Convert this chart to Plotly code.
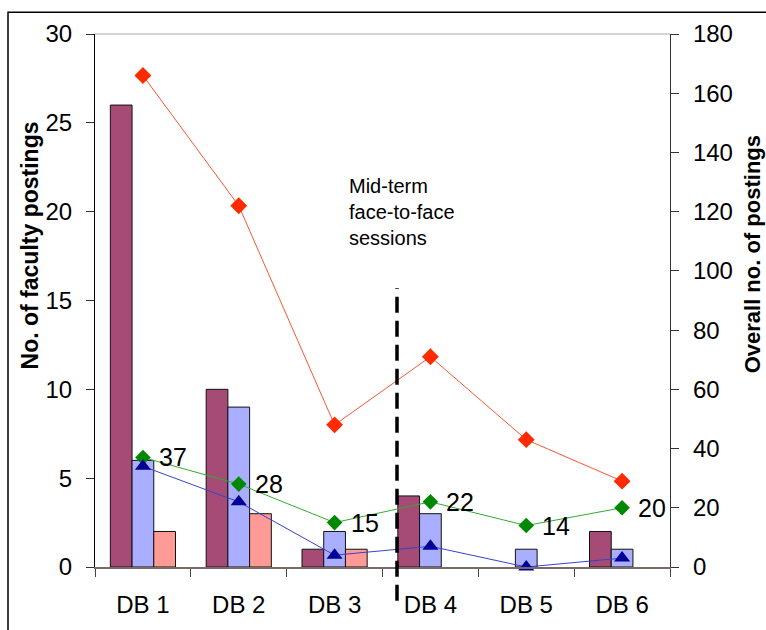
import plotly.graph_objects as go

# Discussion boards
categories = ["DB 1", "DB 2", "DB 3", "DB 4", "DB 5", "DB 6"]

# Faculty postings (left axis)
faculty_a = [26, 10, 1, 4, 0, 2]
faculty_b = [6, 9, 2, 3, 1, 1]
faculty_c = [2, 3, 1, 0, 0, 0]

# Overall postings (right axis)
overall_red = [166, 122, 48, 71, 43, 29]
overall_green = [37, 28, 15, 22, 14, 20]
overall_blue = [34, 22, 4, 7, 0, 3]

left_ticks = [0, 5, 10, 15, 20, 25, 30]
right_ticks = [0, 20, 40, 60, 80, 100, 120, 140, 160, 180]

FONT = "Liberation Sans, Arial, sans-serif"
W, H = 766, 630
ML, MR, MT, MB = 95, 96, 34, 59
PW, PH = W - ML - MR, H - MT - MB


def px_x(px):
    return (px - ML) / PW


def px_y(py):
    return (H - MB - py) / PH


def outline(values):
    # empty bars get no outline so they don't show as a flat line
    return dict(color="#111111", width=[1 if v > 0 else 0 for v in values])


fig = go.Figure()

fig.add_trace(go.Bar(x=categories, y=faculty_a, marker=dict(color="#A64B76", line=outline(faculty_a)), yaxis="y"))
fig.add_trace(go.Bar(x=categories, y=faculty_b, marker=dict(color="#AAAEFF", line=outline(faculty_b)), yaxis="y"))
fig.add_trace(go.Bar(x=categories, y=faculty_c, marker=dict(color="#FF9A95", line=outline(faculty_c)), yaxis="y"))

fig.add_trace(go.Scatter(
    x=categories, y=overall_red, yaxis="y2", mode="lines+markers",
    line=dict(color="#FF5533", width=1),
    marker=dict(symbol="diamond", size=13, color="#FF2A00"),
    cliponaxis=False))
fig.add_trace(go.Scatter(
    x=categories, y=overall_green, yaxis="y2", mode="lines+markers",
    line=dict(color="#33AA33", width=1),
    marker=dict(symbol="diamond", size=12, color="#008800"),
    cliponaxis=False))
fig.add_trace(go.Scatter(
    x=categories, y=overall_blue, yaxis="y2", mode="lines+markers",
    line=dict(color="#3344CC", width=1),
    marker=dict(symbol="triangle-up", size=14, color="#000099"),
    cliponaxis=False))

# value labels beside the green series
for cat, val in zip(categories, overall_green):
    fig.add_annotation(
        x=cat, y=val, xref="x", yref="y2", xanchor="left", yanchor="middle",
        xshift=14, showarrow=False, text=str(val),
        font=dict(family=FONT, size=25, color="#000000"))

tickfont = dict(family=FONT, size=24, color="#000000")

fig.update_layout(
    width=W, height=H,
    margin=dict(l=ML, r=MR, t=MT, b=MB, pad=0),
    paper_bgcolor="white", plot_bgcolor="white",
    showlegend=False,
    barmode="group", bargap=0.32, bargroupgap=0,
    font=dict(family=FONT, color="#000000"),
    xaxis=dict(
        type="category", range=[-0.5, 5.5],
        showline=True, linecolor="#7A6A6A", linewidth=1.5,
        showgrid=False, zeroline=False,
        ticks="outside", tickson="boundaries", ticklen=8, tickcolor="#444444",
        tickfont=tickfont, ticklabelstandoff=15,
    ),
    xaxis2=dict(
        overlaying="x", anchor="y", range=[-0.5, 5.5],
        tickvals=[0.5, 1.5, 2.5, 3.5, 4.5], ticks="inside", ticklen=9,
        tickcolor="#444444", showticklabels=False,
        showline=False, showgrid=False, zeroline=False,
    ),
    yaxis=dict(
        range=[0, 30], tickvals=left_ticks,
        showline=True, linecolor="#000000", linewidth=1.2,
        showgrid=False, zeroline=False,
        ticks="outside", ticklen=8, tickcolor="#333333",
        tickfont=tickfont, ticklabelstandoff=9,
    ),
    yaxis3=dict(
        overlaying="y", anchor="x", range=[0, 30], tickvals=left_ticks,
        ticks="inside", ticklen=10, tickcolor="#333333", showticklabels=False,
        showline=False, showgrid=False, zeroline=False,
    ),
    yaxis2=dict(
        overlaying="y", side="right", anchor="x",
        range=[0, 180], tickvals=right_ticks,
        showline=True, linecolor="#333333", linewidth=1.2,
        showgrid=False, zeroline=False,
        ticks="outside", ticklen=8, tickcolor="#333333",
        tickfont=tickfont, ticklabelstandoff=9,
    ),
    yaxis4=dict(
        overlaying="y", side="right", anchor="x",
        range=[0, 180], tickvals=right_ticks,
        ticks="inside", ticklen=8, tickcolor="#333333", showticklabels=False,
        showline=False, showgrid=False, zeroline=False,
    ),
)

# outer frame, top border of the plot area and the mid-term divider
fig.add_shape(type="rect", xref="paper", yref="paper",
              x0=px_x(8), x1=px_x(800), y0=px_y(700), y1=px_y(12),
              line=dict(color="#000000", width=1.5), layer="below")
fig.add_shape(type="line", xref="paper", yref="paper",
              x0=0, x1=1, y0=1, y1=1,
              line=dict(color="#AAAAAA", width=1.2))
fig.add_shape(type="line", xref="paper", yref="paper",
              x0=px_x(397), x1=px_x(397), y0=px_y(605), y1=px_y(290),
              line=dict(color="#000000", width=3.5, dash="16px,8px"))

fig.add_annotation(
    xref="paper", yref="paper", x=px_x(347), y=px_y(174),
    xanchor="left", yanchor="top", align="left", showarrow=False,
    text="Mid-term<br>face-to-face<br>sessions",
    font=dict(family=FONT, size=20, color="#000000"))

fig.add_annotation(
    xref="paper", yref="paper", x=px_x(30), y=px_y(247),
    xanchor="center", yanchor="middle", textangle=-90, showarrow=False,
    text="<b>No. of faculty postings</b>",
    font=dict(family=FONT, size=23, color="#000000"))
fig.add_annotation(
    xref="paper", yref="paper", x=px_x(752), y=px_y(256),
    xanchor="center", yanchor="middle", textangle=-90, showarrow=False,
    text="<b>Overall no. of postings</b>",
    font=dict(family=FONT, size=22, color="#000000"))

fig.write_html("out.html")
